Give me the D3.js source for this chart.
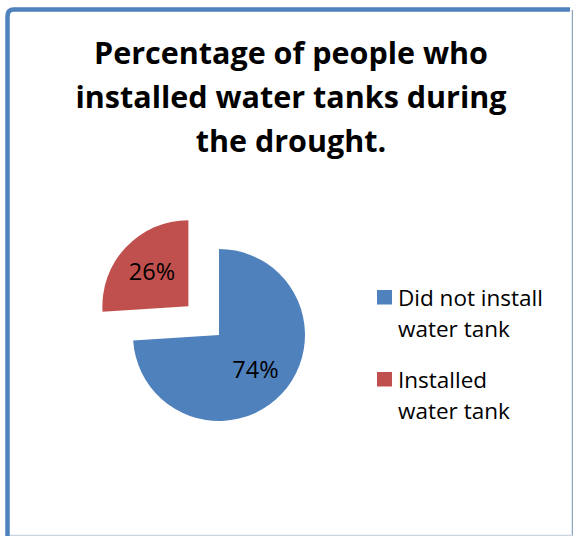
<!DOCTYPE html>
<html>
<head>
<meta charset="utf-8">
<script src="https://cdn.jsdelivr.net/npm/d3@7"></script>
<style>
  html, body { margin: 0; padding: 0; background: #fff; }
  svg { display: block; }
</style>
</head>
<body>
<svg id="chart" width="573" height="536"></svg>
<script>
// Survey result: share of households that installed a water tank
const categories = ["Did not install water tank", "Installed water tank"];
const legendLines = [["Did not install", "water tank"], ["Installed", "water tank"]];
const values = [74, 26];
const sliceLabels = ["74%", "26%"];
const colors = ["#4F81BD", "#C0504D"];
const titleLines = ["Percentage of people who", "installed water tanks during", "the drought."];

const svg = d3.select("#chart");

// Chart frame
svg.append("path")
  .attr("d", "M7.5,536 L7.5,16 Q7.5,9.5 14,9.5 L570,9.5")
  .attr("fill", "none")
  .attr("stroke", "#4F81BD")
  .attr("stroke-width", 4.5);
svg.append("line").attr("x1", 572.5).attr("x2", 572.5).attr("y1", 10).attr("y2", 536)
  .attr("stroke", "#8EA6C4").attr("stroke-width", 1.5);
svg.append("line").attr("x1", 10).attr("x2", 573).attr("y1", 535.5).attr("y2", 535.5)
  .attr("stroke", "#C9D4E3").attr("stroke-width", 1.5);

// Title
const fontFamily = "'Open Sans', Lato, sans-serif";
svg.append("g").selectAll("text")
  .data(titleLines)
  .join("text")
  .attr("x", 291)
  .attr("y", (d, i) => 64 + i * 44)
  .attr("text-anchor", "middle")
  .attr("font-family", fontFamily)
  .attr("font-weight", "bold")
  .attr("font-size", 30.5)
  .attr("fill", "#000")
  .text(d => d);

// Pie
const cx = 219, cy = 335, radius = 86, explode = 42;
const pie = d3.pie().sort(null).value(d => d).startAngle(0).endAngle(2 * Math.PI);
const arcs = pie(values);
const arc = d3.arc().innerRadius(0).outerRadius(radius);
const labelArc = d3.arc().innerRadius(50).outerRadius(50);

const offset = (d, i) => {
  if (i !== 1) return [0, 0];
  const mid = (d.startAngle + d.endAngle) / 2;
  return [Math.sin(mid) * explode, -Math.cos(mid) * explode];
};

const pieG = svg.append("g").attr("transform", `translate(${cx},${cy})`);
const slices = pieG.selectAll("g.slice")
  .data(arcs)
  .join("g")
  .attr("class", "slice")
  .attr("transform", (d, i) => { const o = offset(d, i); return `translate(${o[0]},${o[1]})`; });

slices.append("path")
  .attr("d", arc)
  .attr("fill", (d, i) => colors[i]);

slices.append("text")
  .attr("transform", d => `translate(${labelArc.centroid(d)})`)
  .attr("text-anchor", "middle")
  .attr("dy", "0.36em")
  .attr("font-family", fontFamily)
  .attr("font-size", 23.5)
  .attr("fill", "#000")
  .text((d, i) => sliceLabels[i]);

// Legend
const legend = svg.append("g").attr("transform", "translate(377,290)");
const items = legend.selectAll("g")
  .data(categories)
  .join("g")
  .attr("transform", (d, i) => `translate(0,${i * 82})`);
items.append("rect")
  .attr("width", 15).attr("height", 14.5)
  .attr("fill", (d, i) => colors[i]);
items.each(function(d, i) {
  d3.select(this).selectAll("text")
    .data(legendLines[i])
    .join("text")
    .attr("x", 21)
    .attr("y", (t, j) => 15.5 + j * 31.5)
    .attr("font-family", fontFamily)
    .attr("font-size", 22.5)
    .attr("fill", "#000")
    .text(t => t);
});
</script>
</body>
</html>
